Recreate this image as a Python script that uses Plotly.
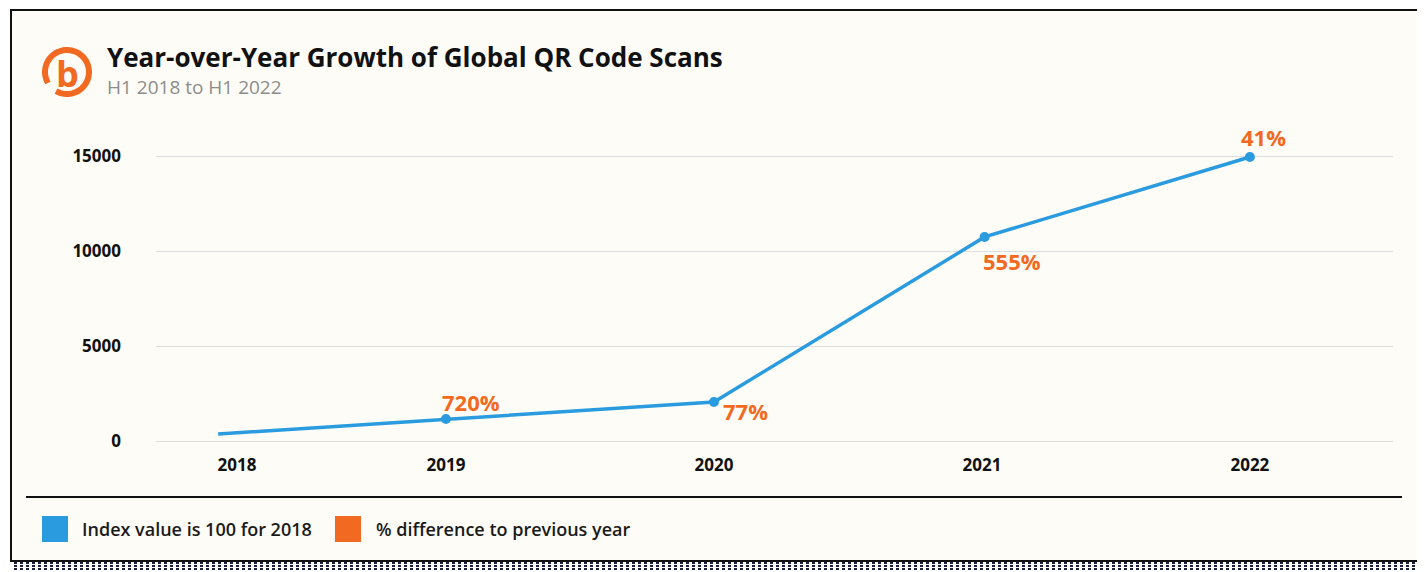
import math
import plotly.graph_objects as go

# data
years = ["2018", "2019", "2020", "2021", "2022"]
year_pos = [2018.22, 2019, 2020, 2021, 2022]        # where the year labels sit
point_x = [2018.15, 2019, 2020, 2021.01, 2022]      # where the line points sit
index_values = [370, 1160, 2050, 10740, 14950]      # index, 2018 = 100
pct_change = ["", "720%", "77%", "555%", "41%"]     # % difference to previous year
y_ticks = [0, 5000, 10000, 15000]

BLUE = "#2A9BDF"
ORANGE = "#F26A22"
CARD = "#FDFCF7"
FONT = "Open Sans"

# the page puts the figure 8px in from the top-left corner
OFF = 8
W, H = 1425 - OFF, 572 - OFF
L, R, T, B = 156 - OFF, 32, 130 - OFF, 122
pw, ph = W - L - R, H - T - B


def fx(px):
    # screen pixel -> paper coordinate
    return (px - OFF - L) / pw


def fy(py):
    return (H - B - (py - OFF)) / ph


fig = go.Figure()

# the line, markers only on 2019-2022
fig.add_trace(go.Scatter(
    x=point_x, y=index_values, mode="lines",
    line=dict(color=BLUE, width=3.5), hoverinfo="skip", showlegend=False))
fig.add_trace(go.Scatter(
    x=point_x[1:], y=index_values[1:], mode="markers",
    marker=dict(color=BLUE, size=10), showlegend=False,
    customdata=pct_change[1:],
    hovertemplate="%{y}<br>%{customdata}<extra></extra>"))

# % labels next to each point
offsets = [None, (25, 17), (32, -9), (27, -24), (14, 20)]
for i, lab in enumerate(pct_change):
    if not lab:
        continue
    dx, dy = offsets[i]
    fig.add_annotation(x=point_x[i], y=index_values[i], xref="x", yref="y",
                       text=f"<b>{lab}</b>", showarrow=False, xshift=dx, yshift=dy,
                       font=dict(family=FONT, size=22, color=ORANGE))

shapes = []
# dotted shadow
for xx in (1419.5, 1422.5):
    shapes.append(dict(type="line", xref="paper", yref="paper",
                       x0=fx(xx), x1=fx(xx), y0=fy(22), y1=fy(572),
                       line=dict(color="#1b1f3b", width=2, dash="dot")))
for yy in (563, 566, 569):
    shapes.append(dict(type="line", xref="paper", yref="paper",
                       x0=fx(14), x1=fx(1425), y0=fy(yy), y1=fy(yy),
                       line=dict(color="#1b1f3b", width=2, dash="dot")))
# card
shapes.append(dict(type="rect", xref="paper", yref="paper", layer="below",
                   x0=fx(11), x1=fx(1418), y0=fy(561), y1=fy(10),
                   fillcolor=CARD, line=dict(color="#111", width=2)))
# separator above the legend
shapes.append(dict(type="line", xref="paper", yref="paper",
                   x0=fx(26), x1=fx(1402), y0=fy(497), y1=fy(497),
                   line=dict(color="#111", width=2)))
# legend squares
shapes.append(dict(type="rect", xref="paper", yref="paper",
                   x0=fx(42), x1=fx(68), y0=fy(542), y1=fy(516),
                   fillcolor=BLUE, line=dict(width=0)))
shapes.append(dict(type="rect", xref="paper", yref="paper",
                   x0=fx(335), x1=fx(361), y0=fy(542), y1=fy(516),
                   fillcolor=ORANGE, line=dict(width=0)))

# logo ring (open at the lower left)
cx, cy, rr = 67, 72, 22
pts = []
for k in range(0, 61):
    a = math.radians(150 + k * 330 / 60)
    pts.append((fx(cx + rr * math.cos(a)), fy(cy + rr * math.sin(a))))
path = "M " + " L ".join(f"{a:.5f},{b:.5f}" for a, b in pts)
shapes.append(dict(type="path", xref="paper", yref="paper", path=path,
                   line=dict(color=ORANGE, width=6)))

annotations = [
    dict(x=fx(68), y=fy(74), text="<b>b</b>", showarrow=False,
         xanchor="center", yanchor="middle",
         font=dict(family=FONT, size=36, color=ORANGE)),
    dict(x=fx(105), y=fy(57), text="<b>Year-over-Year Growth of Global QR Code Scans</b>",
         showarrow=False, xanchor="left", yanchor="middle",
         font=dict(family=FONT, size=26, color="#111")),
    dict(x=fx(105), y=fy(87), text="H1 2018 to H1 2022", showarrow=False,
         xanchor="left", yanchor="middle",
         font=dict(family=FONT, size=19, color="#8c8c8c")),
    dict(x=fx(80), y=fy(529), text="Index value is 100 for 2018", showarrow=False,
         xanchor="left", yanchor="middle",
         font=dict(family=FONT, size=18, color="#1a1a1a", weight=600)),
    dict(x=fx(374), y=fy(529), text="% difference to previous year", showarrow=False,
         xanchor="left", yanchor="middle",
         font=dict(family=FONT, size=18, color="#1a1a1a", weight=600)),
]
for a in annotations:
    a.update(xref="paper", yref="paper")
    fig.add_annotation(**a)

# y pixel = 441 - 0.019 * value  (screen coords)
y_top = (441 - (T + OFF)) / 0.019
y_bot = (441 - (H - B + OFF)) / 0.019
fig.update_layout(
    width=W, height=H,
    margin=dict(l=L, r=R, t=T, b=B),
    paper_bgcolor="white", plot_bgcolor="rgba(0,0,0,0)",
    shapes=shapes, showlegend=False,
    font=dict(family=FONT, color="#111"),
)
fig.update_xaxes(range=[2017.918, 2022.534], tickvals=year_pos, ticktext=years,
                 showgrid=False, zeroline=False, showline=False,
                 tickfont=dict(size=17, weight="bold"), ticklabelstandoff=3)
fig.update_yaxes(range=[y_bot, y_top], tickvals=y_ticks, tickformat="d",
                 showgrid=True, gridcolor="#dedde0", gridwidth=1, zeroline=False,
                 showline=False, tickfont=dict(size=17, weight="bold"),
                 ticklabelstandoff=34)

fig.write_html("out.html")
